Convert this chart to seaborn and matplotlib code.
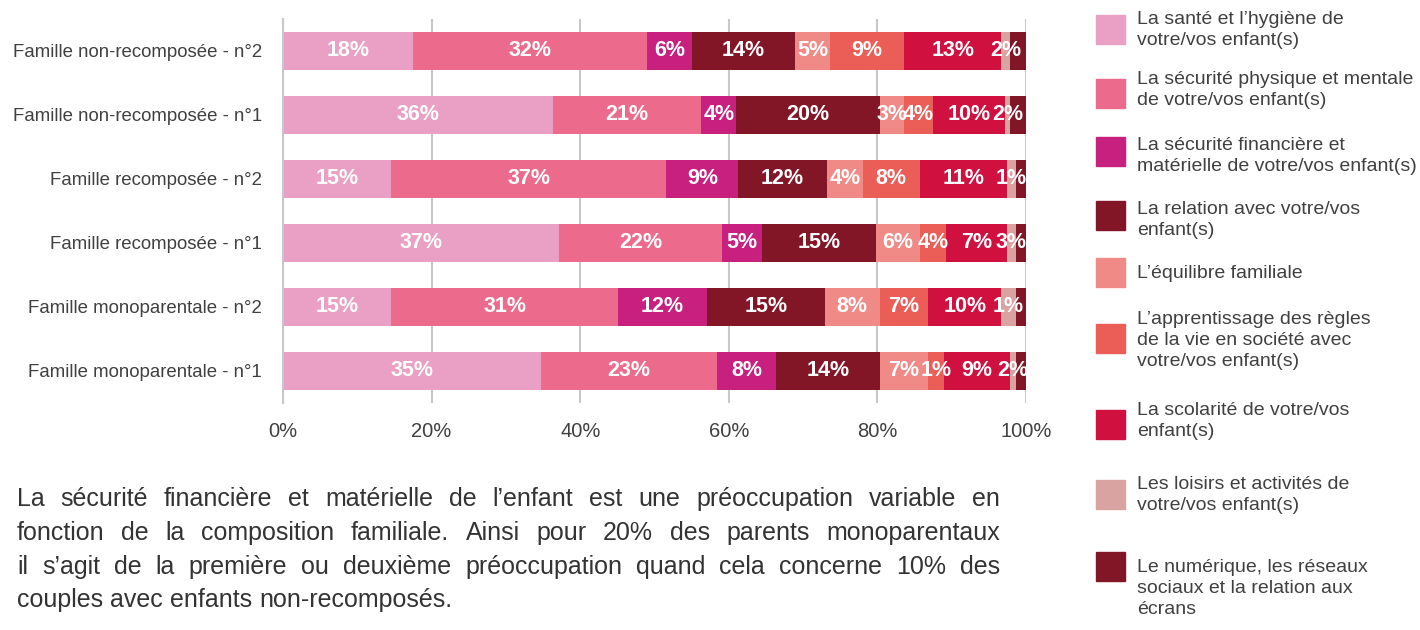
"""Stacked horizontal bars: parental concerns by family composition."""

import matplotlib.pyplot as plt
import numpy as np
import pandas as pd
import seaborn as sns
from matplotlib.patches import Rectangle

families = [
    "Famille non-recomposée - n°2",
    "Famille non-recomposée - n°1",
    "Famille recomposée - n°2",
    "Famille recomposée - n°1",
    "Famille monoparentale - n°2",
    "Famille monoparentale - n°1",
]
concerns = [
    "La santé et l’hygiène de\nvotre/vos enfant(s)",
    "La sécurité physique et mentale\nde votre/vos enfant(s)",
    "La sécurité financière et\nmatérielle de votre/vos enfant(s)",
    "La relation avec votre/vos\nenfant(s)",
    "L’équilibre familiale",
    "L’apprentissage des règles\nde la vie en société avec\nvotre/vos enfant(s)",
    "La scolarité de votre/vos\nenfant(s)",
    "Les loisirs et activités de\nvotre/vos enfant(s)",
    "Le numérique, les réseaux\nsociaux et la relation aux\nécrans",
]
colors = ["#EA9FC4", "#EC6B8C", "#C8207F", "#821626", "#F08A86",
          "#EB5E57", "#D0103F", "#D8A3A0", "#811626"]

# segment widths (share of parents, %), one list per family, in concern order
shares = {
    "Famille non-recomposée - n°2": [17.5, 31.5, 6.0, 13.9, 4.7, 10.0, 13.1, 1.1, 2.2],
    "Famille non-recomposée - n°1": [36.3, 20.0, 4.7, 19.3, 3.3, 3.9, 9.7, 0.6, 2.2],
    "Famille recomposée - n°2": [14.6, 37.0, 9.7, 11.9, 4.8, 7.7, 11.7, 1.2, 1.4],
    "Famille recomposée - n°1": [37.1, 22.0, 5.4, 15.3, 5.9, 3.5, 8.2, 1.2, 1.4],
    "Famille monoparentale - n°2": [14.6, 30.5, 12.0, 15.8, 7.4, 6.5, 9.9, 1.9, 1.4],
    "Famille monoparentale - n°1": [34.7, 23.7, 8.0, 13.9, 6.5, 2.1, 8.9, 0.8, 1.4],
}
# labels printed on the bars (None = no label shown)
labels = {
    "Famille non-recomposée - n°2": [18, 32, 6, 14, 5, 9, 13, 2, None],
    "Famille non-recomposée - n°1": [36, 21, 4, 20, 3, 4, 10, 2, None],
    "Famille recomposée - n°2": [15, 37, 9, 12, 4, 8, 11, 1, None],
    "Famille recomposée - n°1": [37, 22, 5, 15, 6, 4, 7, 3, None],
    "Famille monoparentale - n°2": [15, 31, 12, 15, 8, 7, 10, 1, None],
    "Famille monoparentale - n°1": [35, 23, 8, 14, 7, 1, 9, 2, None],
}
ticks = [0, 20, 40, 60, 80, 100]

caption = [
    "La sécurité financière et matérielle de l’enfant est une préoccupation variable en",
    "fonction de la composition familiale. Ainsi pour 20% des parents monoparentaux",
    "il s’agit de la première ou deuxième préoccupation quand cela concerne 10% des",
    "couples avec enfants non-recomposés.",
]

W, H = 1420, 630
FONT = ["Liberation Sans", "DejaVu Sans"]
TEXT_COLOR = "#404040"

sns.set_theme(style="white")
plt.rcParams["font.family"] = FONT


def fx(px):
    return px / W


def fy(px):
    return 1 - px / H


data = pd.DataFrame(shares, index=concerns).T.loc[families]
cum = data.cumsum(axis=1)

fig = plt.figure(figsize=(W / 100, H / 100), dpi=100)
ax = fig.add_axes([fx(283), fy(403), fx(1026 - 283), (403 - 19) / H])

# draw cumulative ends from the last concern to the first so they stack
for i in range(len(concerns) - 1, -1, -1):
    sns.barplot(
        x=cum.iloc[:, i].values,
        y=families,
        color=colors[i],
        orient="h",
        width=0.58,
        saturation=1,
        linewidth=0,
        ax=ax,
    )

for r, fam in enumerate(families):
    starts = cum.loc[fam].values - data.loc[fam].values
    for i, lab in enumerate(labels[fam]):
        if lab is None:
            continue
        mid = starts[i] + data.loc[fam].iloc[i] / 2
        ax.text(mid, r, f"{lab}%", ha="center", va="center", color="white",
                fontsize=15.5, fontweight="bold")

ax.set_xlim(0, 100)
ax.set_ylim(len(families) - 0.5, -0.5)
ax.set_xticks(ticks)
ax.set_xticklabels([f"{t}%" for t in ticks])
ax.grid(axis="x", color="#C8C8C8", linewidth=1.5)
ax.set_axisbelow(True)
for side in ["top", "right", "bottom"]:
    ax.spines[side].set_visible(False)
ax.spines["left"].set_color("#C8C8C8")
ax.spines["left"].set_linewidth(1.5)
ax.tick_params(axis="x", length=0, pad=14, labelsize=14.5, labelcolor=TEXT_COLOR)
ax.tick_params(axis="y", length=0, pad=15, labelsize=13.4, labelcolor=TEXT_COLOR)
ax.set_xlabel("")
ax.set_ylabel("")

# legend drawn by hand to keep the uneven spacing of the original
square_tops = [15, 79, 137, 201, 258, 324, 410, 480, 552]
text_tops = [11, 71, 137, 201, 265, 311, 402, 476, 559]
for name, col, st, tt in zip(concerns, colors, square_tops, text_tops):
    fig.patches.append(Rectangle((fx(1096), fy(st + 29)), 29 / W, 29 / H,
                                 transform=fig.transFigure, color=col))
    fig.text(fx(1137), fy(tt), name, va="top", ha="left", fontsize=14,
             color=TEXT_COLOR, linespacing=1.3)

# justified caption
renderer = fig.canvas.get_renderer()
left, right = 17, 1000
for k, (line, yc) in enumerate(zip(caption, [499, 533, 567, 600])):
    words = line.split()
    items = [fig.text(0, fy(yc + 7), w, va="baseline", ha="left", fontsize=18,
                      color="#333333") for w in words]
    widths = [t.get_window_extent(renderer).width for t in items]
    if k < len(caption) - 1:
        gap = (right - left - sum(widths)) / (len(words) - 1)
    else:
        gap = 7
    x = left
    for t, w in zip(items, widths):
        t.set_x(fx(x))
        x += w + gap

fig.savefig("out.png", dpi=100)
